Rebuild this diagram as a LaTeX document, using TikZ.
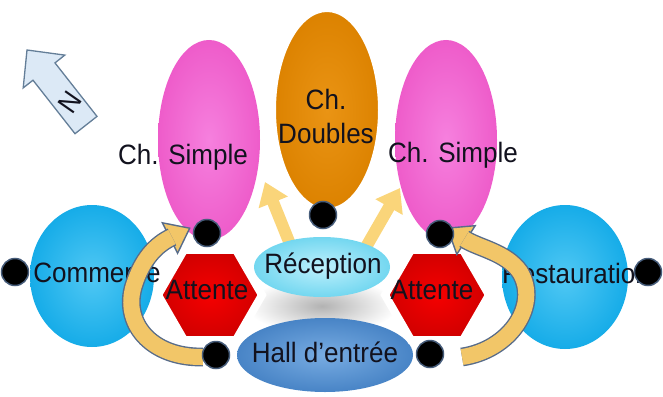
\documentclass[tikz,border=0pt]{standalone}
\usepackage{fontspec}
\setmainfont{Liberation Sans}[FakeStretch=0.93]
\usetikzlibrary{shapes.geometric,arrows.meta,shadows}
\definecolor{pinkA}{RGB}{246,128,222}
\definecolor{pinkB}{RGB}{238,92,202}
\definecolor{orA}{RGB}{234,148,20}
\definecolor{orB}{RGB}{220,130,0}
\definecolor{cyA}{RGB}{80,200,244}
\definecolor{cyB}{RGB}{22,172,232}
\definecolor{reA}{RGB}{190,240,252}
\definecolor{reB}{RGB}{115,215,240}
\definecolor{haA}{RGB}{120,172,226}
\definecolor{haB}{RGB}{72,132,198}
\definecolor{rdA}{RGB}{245,0,0}
\definecolor{rdB}{RGB}{208,0,0}
\definecolor{ylw}{RGB}{250,213,122}
\definecolor{gld}{RGB}{242,198,104}
\definecolor{outl}{RGB}{88,108,138}
\definecolor{dotl}{RGB}{70,92,122}
\definecolor{nfill}{RGB}{220,233,246}
\definecolor{nline}{RGB}{100,126,152}
\definecolor{txtc}{RGB}{18,18,30}
\begin{document}
\begin{tikzpicture}[x=1pt,y=-1pt,
  txt/.style={font=\fontsize{28}{34}\selectfont, text=txtc, inner sep=0pt},
  blob/.style={ellipse, inner sep=0pt},
  hexa/.style={regular polygon, regular polygon sides=6, minimum size=104pt, inner sep=0pt,
     shade, inner color=rdA, outer color=rdB, draw=white, line width=8pt,
     drop shadow={shadow xshift=-1.5pt, shadow yshift=-2pt, opacity=0.25}},
  bdot/.style={circle, minimum size=27pt, inner sep=0pt, fill=black, draw=dotl, line width=1.5pt},
  yarr/.style={draw=ylw, line width=12pt, -{Triangle[width=30pt,length=22pt]}},
  band/.style={draw=outl, line width=1.4pt, double=gld, double distance=16pt},
  bhead/.style={fill=gld, draw=outl, line width=1.4pt, line join=miter}
]
\useasboundingbox (0,0) rectangle (663,396);

% side ellipses
\node[blob, minimum width=124pt, minimum height=142pt, shade, inner color=cyA, outer color=cyB] (com) at (92,276) {};
\node[blob, minimum width=126pt, minimum height=144pt, shade, inner color=cyA, outer color=cyB] (rest) at (565,277) {};
\node[txt] (comT) at (97,273) {Commerce};
\node[txt] (restT) at (576,273) {Restauration};

% rooms
\node[blob, minimum width=102pt, minimum height=200pt, shade, inner color=pinkA, outer color=pinkB] (ps1) at (209,140) {};
\node[blob, minimum width=102pt, minimum height=200pt, shade, inner color=pinkA, outer color=pinkB] (ps2) at (446,140) {};
\node[blob, minimum width=108pt, minimum height=202pt, shade, inner color=orA, outer color=orB, draw=white, line width=6pt,
      drop shadow={shadow xshift=-1.5pt, shadow yshift=-2pt, opacity=0.3}] (dbl) at (327,110) {};
\node[txt] (ps1T) at (183,157) {Ch. Simple};
\node[txt] (ps2T) at (453,155) {Ch. Simple};
\node[txt, align=center] (dblT) at (326,116) {Ch.\\Doubles};

% straight arrows from reception
\coordinate (ya1) at (294,254);
\coordinate (yb1) at (265,182);
\coordinate (ya2) at (362,254);
\coordinate (yb2) at (400,188);
\draw[yarr] (ya1) -- (yb1);
\draw[yarr] (ya2) -- (yb2);

% reflection, reception, hall
\node[blob, minimum width=150pt, minimum height=56pt, shade, inner color=black!30, outer color=white] (refl) at (322,306) {};
\node[blob, minimum width=136pt, minimum height=60pt, shade, inner color=reA, outer color=reB] (rec) at (322,267) {};
\node[txt] (recT) at (323,266) {Réception};
\node[blob, minimum width=176pt, minimum height=74pt, shade, inner color=haA, outer color=haB] (hall) at (325,355) {};
\node[txt] (hallT) at (325,352) {Hall d’entrée};

% waiting areas
\node[hexa] (att1) at (210,295) {};
\node[hexa] (att2) at (437,295) {};
\node[txt] (att1T) at (207,290) {Attente};
\node[txt] (att2T) at (432,290) {Attente};

% curved arrows
\coordinate (lc1) at (162.4,222.8);
\coordinate (lc2) at (177.6,253.2);
\coordinate (lt) at (189.7,228.2);
\coordinate (ls) at (203,357);
\coordinate (le) at (172,237);
\coordinate (rc1) at (475.2,225.7);
\coordinate (rc2) at (456.8,254.3);
\coordinate (rt) at (447.5,228.1);
\coordinate (rs) at (462,357);
\coordinate (re) at (464.3,238.9);
\draw[bhead] (lc1) -- (lt) -- (lc2) -- cycle;
\draw[band] (ls) .. controls (150,358) and (122,322) .. (134,285) .. controls (142,260) and (155,245) .. (le);
\draw[bhead] (rc1) -- (rt) -- (rc2) -- cycle;
\draw[band] (rs) .. controls (510,350) and (540,305) .. (520,272) .. controls (506,252) and (478,248) .. (re);

% access points
\node[bdot] (d1) at (207,233) {};
\node[bdot] (d2) at (323,215) {};
\node[bdot] (d3) at (440,234) {};
\node[bdot] (d4) at (15,272) {};
\node[bdot] (d5) at (648,272) {};
\node[bdot] (d6) at (216,355) {};
\node[bdot] (d7) at (430,354) {};

% north arrow
\draw[fill=nfill, draw=nline, line width=1.3pt, line join=miter]
  (27,50) -- (64.8,55.1) -- (55,62.9) -- (97,116.4) -- (75,133.7) -- (33,80.2) -- (23.2,87.9) -- cycle;
\node[txt, rotate=55] (nT) at (70,102) {N};
\end{tikzpicture}
\end{document}
